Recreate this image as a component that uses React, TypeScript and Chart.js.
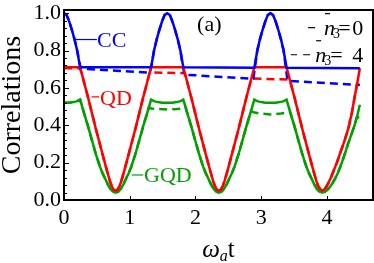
import { useEffect, useRef } from "react";
import { Chart, registerables } from "chart.js";

Chart.register(...registerables);

// ---------- data ----------
const xTicks = [0, 1, 2, 3, 4];
const yTicks = [0, 0.2, 0.4, 0.6, 0.8, 1.0];
const yMinorTicks = [0.04, 0.08, 0.12, 0.16, 0.24, 0.28, 0.32, 0.36, 0.44, 0.48, 0.52, 0.56, 0.64, 0.68, 0.72, 0.76, 0.84, 0.88, 0.92, 0.96];

// CC, n3 = 0 (solid)
const ccSolid: number[][] = [
  [0, 1.0], [0.04, 0.99], [0.08, 0.955], [0.12, 0.91], [0.16, 0.86], [0.2, 0.8], [0.245, 0.71],
  [1.325, 0.71], [1.37, 0.8], [1.41, 0.86], [1.45, 0.91], [1.49, 0.955], [1.53, 0.99], [1.57, 1.0], [1.61, 0.99], [1.65, 0.955], [1.69, 0.91], [1.73, 0.86], [1.77, 0.8], [1.815, 0.71],
  [2.895, 0.708], [2.94, 0.8], [2.98, 0.86], [3.02, 0.91], [3.06, 0.955], [3.1, 0.99], [3.14, 1.0], [3.18, 0.99], [3.22, 0.955], [3.26, 0.91], [3.3, 0.86], [3.34, 0.8], [3.385, 0.708],
  [4.5, 0.705],
];
// CC, n3 = 4 (dashed)
const ccDashed: number[][] = [
  [0, 1.0], [0.04, 0.99], [0.08, 0.955], [0.12, 0.91], [0.16, 0.86], [0.2, 0.8], [0.255, 0.703],
  [0.8, 0.692], [1.31, 0.681],
  [1.37, 0.8], [1.41, 0.86], [1.45, 0.91], [1.49, 0.955], [1.53, 0.99], [1.57, 1.0], [1.61, 0.99], [1.65, 0.955], [1.69, 0.91], [1.73, 0.86], [1.77, 0.8],
  [1.83, 0.671], [2.4, 0.659], [2.88, 0.649],
  [2.94, 0.8], [2.98, 0.86], [3.02, 0.91], [3.06, 0.955], [3.1, 0.99], [3.14, 1.0], [3.18, 0.99], [3.22, 0.955], [3.26, 0.91], [3.3, 0.86], [3.34, 0.8],
  [3.4, 0.638], [4.0, 0.626], [4.5, 0.615],
];
// QD, n3 = 0 (solid)
const qdSolid: number[][] = [
  [0, 0.71], [0.245, 0.71], [0.305, 0.63], [0.365, 0.55], [0.425, 0.465], [0.485, 0.38], [0.545, 0.3], [0.605, 0.22], [0.655, 0.155], [0.695, 0.105], [0.725, 0.075], [0.755, 0.055], [0.785, 0.05],
  [0.815, 0.055], [0.845, 0.075], [0.875, 0.105], [0.915, 0.155], [0.965, 0.22], [1.025, 0.3], [1.085, 0.38], [1.145, 0.465], [1.205, 0.55], [1.265, 0.63], [1.325, 0.71],
  [1.815, 0.71], [1.875, 0.63], [1.935, 0.55], [1.995, 0.465], [2.055, 0.38], [2.115, 0.3], [2.175, 0.22], [2.225, 0.155], [2.265, 0.105], [2.295, 0.075], [2.325, 0.055], [2.355, 0.05],
  [2.385, 0.055], [2.415, 0.075], [2.445, 0.105], [2.485, 0.155], [2.535, 0.22], [2.595, 0.3], [2.655, 0.38], [2.715, 0.465], [2.775, 0.55], [2.835, 0.63], [2.895, 0.71],
  [3.385, 0.71], [3.445, 0.63], [3.505, 0.55], [3.565, 0.465], [3.625, 0.38], [3.685, 0.3], [3.745, 0.22], [3.795, 0.155], [3.835, 0.105], [3.865, 0.075], [3.895, 0.058], [3.925, 0.05],
  [3.955, 0.055], [3.985, 0.068], [4.02, 0.09], [4.06, 0.12], [4.1, 0.155], [4.15, 0.2], [4.21, 0.26], [4.27, 0.32], [4.33, 0.39], [4.38, 0.47], [4.42, 0.55], [4.46, 0.625], [4.5, 0.705],
];
// QD, n3 = 4 (dashed)
const qdDashed: number[][] = [
  [0, 0.705], [0.245, 0.705], [0.305, 0.63], [0.365, 0.55], [0.425, 0.465], [0.485, 0.38], [0.545, 0.3], [0.605, 0.22], [0.655, 0.155], [0.695, 0.105], [0.725, 0.075], [0.755, 0.055], [0.785, 0.05],
  [0.815, 0.055], [0.845, 0.075], [0.875, 0.105], [0.915, 0.155], [0.965, 0.22], [1.025, 0.3], [1.085, 0.38], [1.145, 0.465], [1.205, 0.55], [1.265, 0.63], [1.303, 0.683],
  [1.837, 0.679], [1.875, 0.63], [1.935, 0.55], [1.995, 0.465], [2.055, 0.38], [2.115, 0.3], [2.175, 0.22], [2.225, 0.155], [2.265, 0.105], [2.295, 0.075], [2.325, 0.055], [2.355, 0.05],
  [2.385, 0.055], [2.415, 0.075], [2.445, 0.105], [2.485, 0.155], [2.535, 0.22], [2.595, 0.3], [2.655, 0.38], [2.715, 0.465], [2.775, 0.55], [2.835, 0.63], [2.857, 0.65],
  [3.423, 0.645], [3.445, 0.63], [3.505, 0.55], [3.565, 0.465], [3.625, 0.38], [3.685, 0.3], [3.745, 0.22], [3.795, 0.155], [3.835, 0.105], [3.865, 0.075], [3.895, 0.058], [3.925, 0.05],
  [3.955, 0.055], [3.985, 0.068], [4.02, 0.09], [4.06, 0.12], [4.1, 0.155], [4.15, 0.2], [4.21, 0.26], [4.27, 0.32], [4.33, 0.39], [4.38, 0.47], [4.42, 0.55], [4.456, 0.62], [4.5, 0.62],
];
// GQD, n3 = 0 (solid)
const gqdSolid: number[][] = [
  [0, 0.52], [0.08, 0.521], [0.14, 0.524], [0.19, 0.528], [0.225, 0.533], [0.245, 0.537],
  [0.305, 0.465], [0.365, 0.395], [0.425, 0.32], [0.485, 0.245], [0.545, 0.18], [0.585, 0.145], [0.625, 0.115], [0.665, 0.085], [0.705, 0.06], [0.745, 0.045], [0.785, 0.04],
  [0.825, 0.045], [0.865, 0.06], [0.905, 0.085], [0.945, 0.115], [0.985, 0.145], [1.025, 0.18], [1.085, 0.245], [1.145, 0.32], [1.205, 0.395], [1.265, 0.465], [1.325, 0.537],
  [1.345, 0.533], [1.38, 0.528], [1.43, 0.524], [1.49, 0.521], [1.57, 0.52], [1.65, 0.521], [1.71, 0.524], [1.76, 0.528], [1.795, 0.533], [1.815, 0.537],
  [1.875, 0.465], [1.935, 0.395], [1.995, 0.32], [2.055, 0.245], [2.115, 0.18], [2.155, 0.145], [2.195, 0.115], [2.235, 0.085], [2.275, 0.06], [2.315, 0.045], [2.355, 0.04],
  [2.395, 0.045], [2.435, 0.06], [2.475, 0.085], [2.515, 0.115], [2.555, 0.145], [2.595, 0.18], [2.655, 0.245], [2.715, 0.32], [2.775, 0.395], [2.835, 0.465], [2.895, 0.537],
  [2.915, 0.533], [2.95, 0.528], [3.0, 0.524], [3.06, 0.521], [3.14, 0.52], [3.22, 0.521], [3.28, 0.524], [3.33, 0.528], [3.365, 0.533], [3.385, 0.537],
  [3.445, 0.465], [3.505, 0.395], [3.565, 0.32], [3.625, 0.245], [3.685, 0.18], [3.725, 0.145], [3.765, 0.115], [3.805, 0.085], [3.845, 0.06], [3.885, 0.045], [3.925, 0.04],
  [3.965, 0.043], [4.005, 0.055], [4.045, 0.07], [4.085, 0.09], [4.125, 0.115], [4.165, 0.145], [4.2, 0.175], [4.26, 0.235], [4.32, 0.3], [4.37, 0.35], [4.42, 0.4], [4.46, 0.45], [4.5, 0.51],
];
// GQD, n3 = 4 (dashed)
const gqdDashed: number[][] = [
  [0, 0.52], [0.08, 0.521], [0.14, 0.524], [0.19, 0.528], [0.225, 0.533], [0.245, 0.537],
  [0.305, 0.465], [0.365, 0.395], [0.425, 0.32], [0.485, 0.245], [0.545, 0.18], [0.585, 0.145], [0.625, 0.115], [0.665, 0.085], [0.705, 0.06], [0.745, 0.045], [0.785, 0.04],
  [0.825, 0.045], [0.865, 0.06], [0.905, 0.085], [0.945, 0.115], [0.985, 0.145], [1.025, 0.18], [1.085, 0.245], [1.145, 0.32], [1.205, 0.395], [1.265, 0.465], [1.29, 0.495],
  [1.33, 0.49], [1.42, 0.487], [1.57, 0.485], [1.72, 0.487], [1.81, 0.49], [1.85, 0.495],
  [1.875, 0.465], [1.935, 0.395], [1.995, 0.32], [2.055, 0.245], [2.115, 0.18], [2.155, 0.145], [2.195, 0.115], [2.235, 0.085], [2.275, 0.06], [2.315, 0.045], [2.355, 0.04],
  [2.395, 0.045], [2.435, 0.06], [2.475, 0.085], [2.515, 0.115], [2.555, 0.145], [2.595, 0.18], [2.655, 0.245], [2.715, 0.32], [2.775, 0.395], [2.835, 0.465], [2.845, 0.475],
  [2.9, 0.468], [2.98, 0.463], [3.14, 0.458], [3.3, 0.463], [3.38, 0.468], [3.435, 0.475],
  [3.445, 0.465], [3.505, 0.395], [3.565, 0.32], [3.625, 0.245], [3.685, 0.18], [3.725, 0.145], [3.765, 0.115], [3.805, 0.085], [3.845, 0.06], [3.885, 0.045], [3.925, 0.04],
  [3.965, 0.043], [4.005, 0.055], [4.045, 0.07], [4.085, 0.09], [4.125, 0.115], [4.165, 0.145], [4.2, 0.175], [4.26, 0.235], [4.32, 0.3], [4.37, 0.35], [4.42, 0.4], [4.45, 0.44], [4.5, 0.445],
];

// ---------- styles ----------
const BLUE = "rgb(0,0,255)";
const RED = "rgb(255,0,0)";
const GREEN = "rgb(0,160,0)";
const SERIF = "'Liberation Serif', 'Times New Roman', serif";

const pts = (a: number[][]) => a.map(([x, y]) => ({ x, y }));

const notesPlugin = {
  id: "frameNotes",
  afterDatasetsDraw(chart: any) {
    const { ctx, chartArea: a, scales } = chart;
    const x = scales.x;
    const y = scales.y;
    const X = (v: number) => x.getPixelForValue(v);
    const Y = (v: number) => y.getPixelForValue(v);
    ctx.save();

    // inward ticks
    ctx.strokeStyle = "#000";
    ctx.lineWidth = 1;
    ctx.beginPath();
    for (const v of yTicks) {
      const py = Math.round(Y(v)) + 0.5;
      ctx.moveTo(a.left, py);
      ctx.lineTo(a.left + 5, py);
    }
    for (const v of yMinorTicks) {
      const py = Math.round(Y(v)) + 0.5;
      ctx.moveTo(a.left, py);
      ctx.lineTo(a.left + 3, py);
    }
    for (const v of xTicks) {
      const px = Math.round(X(v)) + 0.5;
      ctx.moveTo(px, a.bottom);
      ctx.lineTo(px, a.bottom - 4);
    }
    ctx.stroke();

    // frame
    ctx.lineWidth = 2;
    ctx.strokeRect(a.left, a.top, a.right - a.left, a.bottom - a.top);

    // curve labels
    ctx.textBaseline = "alphabetic";
    ctx.textAlign = "left";
    ctx.font = `22px ${SERIF}`;
    // CC
    ctx.strokeStyle = BLUE;
    ctx.fillStyle = BLUE;
    ctx.lineWidth = 1.2;
    ctx.beginPath();
    ctx.moveTo(X(0.152), Y(0.859));
    ctx.lineTo(X(0.5), Y(0.859));
    ctx.stroke();
    ctx.fillText("CC", X(0.502), Y(0.821));
    // QD
    ctx.strokeStyle = RED;
    ctx.fillStyle = RED;
    ctx.beginPath();
    ctx.moveTo(X(0.42), Y(0.552));
    ctx.lineTo(X(0.535), Y(0.552));
    ctx.stroke();
    ctx.fillText("QD", X(0.548), Y(0.508));
    // GQD
    ctx.strokeStyle = GREEN;
    ctx.fillStyle = GREEN;
    ctx.beginPath();
    ctx.moveTo(X(1.03), Y(0.134));
    ctx.lineTo(X(1.205), Y(0.134));
    ctx.stroke();
    ctx.fillText("GQD", X(1.218), Y(0.096));

    // panel label
    ctx.fillStyle = "#000";
    ctx.fillText("(a)", X(2.024), Y(0.904));

    // legend
    ctx.strokeStyle = "#000";
    ctx.lineWidth = 1.2;
    const drawEntry = (dashes: number[][], nx: number, base: number, eqx: number, digit: string) => {
      ctx.beginPath();
      for (const [s, e] of dashes) {
        ctx.moveTo(X(s), base - 7);
        ctx.lineTo(X(e), base - 7);
      }
      ctx.stroke();
      ctx.font = `italic 22px ${SERIF}`;
      ctx.fillText("n", X(nx), base);
      const nw = ctx.measureText("n").width;
      ctx.beginPath();
      ctx.moveTo(X(nx) + 1, base - 21);
      ctx.lineTo(X(nx) + 6, base - 21);
      ctx.stroke();
      ctx.font = `14px ${SERIF}`;
      ctx.fillText("3", X(nx) + nw - 2, base + 3);
      ctx.font = `22px ${SERIF}`;
      ctx.fillText("=", X(eqx), base);
      ctx.textAlign = "right";
      ctx.fillText(digit, X(4.55), base);
      ctx.textAlign = "left";
    };
    drawEntry([[3.714, 3.82]], 3.955, Y(0.885), 4.17, "0");
    drawEntry([[3.45, 3.545], [3.638, 3.744]], 3.82, Y(0.74), 4.05, "4");

    ctx.restore();
  },
  afterDraw(chart: any) {
    const { ctx, chartArea: a } = chart;
    ctx.save();
    ctx.fillStyle = "#000";
    ctx.textBaseline = "alphabetic";
    ctx.textAlign = "left";
    ctx.font = `italic 25px ${SERIF}`;
    const w1 = ctx.measureText("ω").width;
    ctx.font = `italic 16px ${SERIF}`;
    const w2 = ctx.measureText("a").width;
    ctx.font = `25px ${SERIF}`;
    const w3 = ctx.measureText("t").width;
    const cx = (a.left + a.right) / 2;
    let sx = cx - (w1 + w2 + w3) / 2;
    const base = 257;
    ctx.font = `italic 25px ${SERIF}`;
    ctx.fillText("ω", sx, base);
    sx += w1;
    ctx.font = `italic 16px ${SERIF}`;
    ctx.fillText("a", sx, base + 4);
    sx += w2;
    ctx.font = `25px ${SERIF}`;
    ctx.fillText("t", sx, base);
    ctx.restore();
  },
};

export default function App() {
  const ref = useRef<HTMLCanvasElement>(null);
  useEffect(() => {
    if (!ref.current) return;
    const line = (data: number[][], color: string, dashed: boolean) => ({
      data: pts(data),
      borderColor: color,
      backgroundColor: color,
      borderWidth: 2.5,
      borderDash: dashed ? [8, 5] : [],
      pointRadius: 0,
      tension: 0,
      fill: false,
    });
    const chart = new Chart(ref.current, {
      type: "line",
      data: {
        datasets: [
          line(ccSolid, BLUE, false),
          line(qdSolid, RED, false),
          line(gqdSolid, GREEN, false),
          line(ccDashed, BLUE, true),
          line(qdDashed, RED, true),
          line(gqdDashed, GREEN, true),
        ],
      },
      options: {
        responsive: false,
        devicePixelRatio: 1,
        animation: false,
        layout: { padding: { top: 10, right: 1, left: 0, bottom: 0 } },
        plugins: { legend: { display: false }, tooltip: { enabled: false } },
        scales: {
          x: {
            type: "linear",
            min: 0,
            max: 4.7,
            grid: { display: false, drawTicks: false },
            border: { display: false },
            afterBuildTicks: (s: any) => {
              s.ticks = xTicks.map((v) => ({ value: v }));
            },
            afterFit: (s: any) => {
              s.height = 63;
              s.paddingLeft = 0;
              s.paddingRight = 0;
            },
            ticks: {
              color: "#000",
              font: { family: SERIF, size: 22 },
              padding: 5,
              maxRotation: 0,
              callback: (v: any) => String(v),
            },
          },
          y: {
            type: "linear",
            min: 0,
            max: 1.017,
            grid: { display: false, drawTicks: false },
            border: { display: false },
            afterBuildTicks: (s: any) => {
              s.ticks = yTicks.map((v) => ({ value: v }));
            },
            afterFit: (s: any) => {
              s.width = 64;
              s.paddingTop = 0;
              s.paddingBottom = 0;
            },
            ticks: {
              color: "#000",
              font: { family: SERIF, size: 22 },
              padding: 3,
              callback: (v: any) => Number(v).toFixed(1),
            },
            title: {
              display: true,
              text: "Correlations",
              color: "#000",
              font: { family: SERIF, size: 28, lineHeight: 0.9 },
              padding: 0,
            },
          },
        },
      },
      plugins: [notesPlugin],
    } as any);
    return () => chart.destroy();
  }, []);
  return (
    <div style={{ position: "absolute", left: 0, top: 0, width: 374, height: 263, background: "#fff" }}>
      <canvas ref={ref} width={374} height={263} style={{ display: "block", width: 374, height: 263 }} />
    </div>
  );
}
